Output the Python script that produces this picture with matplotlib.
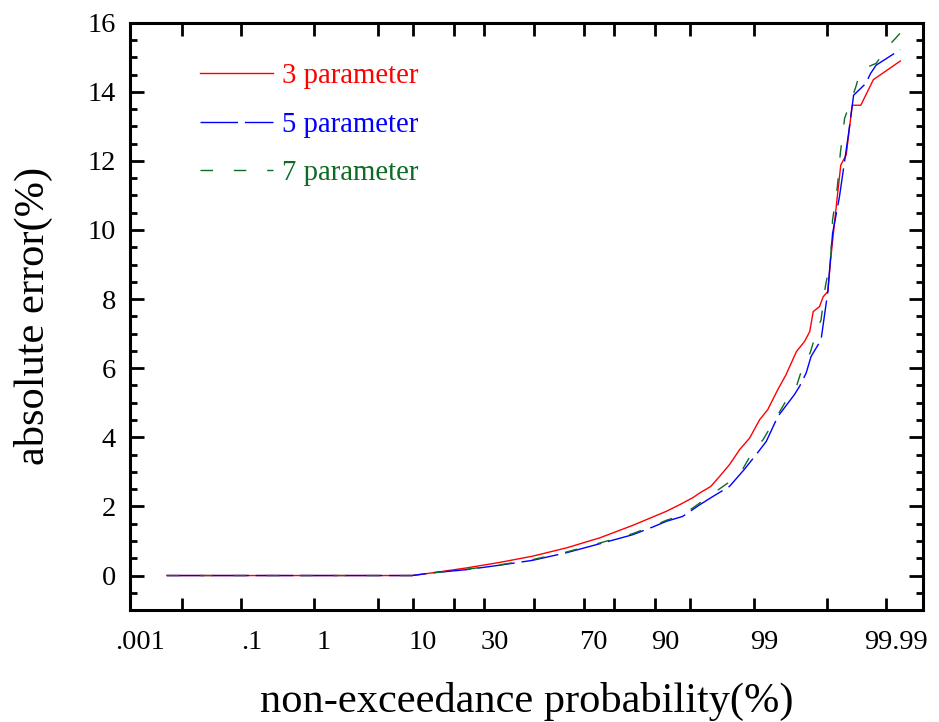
# absolute error of the fitted quantiles vs non-exceedance probability
# x axis is a normal probability scale (percent)

import math
import numpy as np
import matplotlib
matplotlib.use('Agg')
import matplotlib.pyplot as plt
from matplotlib.ticker import FixedLocator, MultipleLocator
from matplotlib.transforms import ScaledTranslation

plt.rcParams['font.family'] = ['Liberation Serif', 'DejaVu Serif']

# probability (%) / absolute error (%) for each fit
p3 = [0.0053, 9.9, 14.3, 23.8, 35.9, 49.4, 63.4, 75.6, 85.1, 91.9, 93.8, 95.3, 96.0,
      96.9, 97.5, 98.05, 98.5, 98.86, 99.14, 99.32, 99.497, 99.61, 99.72, 99.785,
      99.82, 99.84, 99.871, 99.887, 99.904, 99.913, 99.929, 99.940, 99.951, 99.961,
      99.972, 99.983, 99.9945]
err3 = [0, 0, 0.08, 0.22, 0.38, 0.56, 0.80, 1.09, 1.45, 1.86, 2.05, 2.25, 2.39,
        2.58, 2.87, 3.21, 3.64, 3.98, 4.51, 4.80, 5.38, 5.81, 6.48, 6.77,
        7.06, 7.64, 7.78, 8.07, 8.22, 9.13, 10.67, 11.88, 12.17, 13.61,
        13.61, 14.35, 14.89]

p5 = [0.0053, 9.9, 14.3, 23.8, 35.9, 49.4, 63.4, 75.6, 85.1, 89.6, 91.9, 94.17, 96.0,
      96.9, 98.05, 98.69, 99.05, 99.29, 99.497, 99.70, 99.747, 99.797, 99.828, 99.878,
      99.904, 99.919, 99.937, 99.955, 99.963, 99.977, 99.981, 99.9848, 99.9945]
err5 = [0, 0, 0.08, 0.17, 0.30, 0.44, 0.66, 0.92, 1.18, 1.41, 1.57, 1.71, 2.05,
        2.25, 2.58, 3.08, 3.50, 3.88, 4.60, 5.23, 5.47, 5.86, 6.34, 6.82,
        8.22, 9.9, 10.96, 12.77, 13.9, 14.24, 14.53, 14.77, 15.22]

p7 = [0.0053, 9.9, 14.3, 23.8, 35.9, 49.4, 63.4, 75.6, 85.1, 89.6, 91.9, 94.17, 96.0,
      98.5, 98.956, 99.22, 99.497, 99.631, 99.72, 99.773, 99.823, 99.855, 99.878,
      99.895, 99.913, 99.919, 99.932, 99.939, 99.948, 99.966, 99.972, 99.9848,
      99.9912, 99.9945]
err7 = [0, 0, 0.08, 0.18, 0.31, 0.46, 0.68, 0.94, 1.21, 1.44, 1.60, 1.75, 2.10,
        2.92, 3.59, 3.93, 4.65, 5.14, 5.47, 6.05, 6.45, 7.01, 7.40,
        8.36, 9.13, 10.29, 11.25, 12.22, 13.23, 14.14, 14.64, 14.82,
        15.35, 15.70]

tick_labels = ['.001', '.1', '1', '10', '30', '70', '90', '99', '99.99']
tick_probs = [0.001, 0.1, 1, 10, 30, 70, 90, 99, 99.99]
minor_probs = [0.01, 5, 20, 50, 80, 95, 99.9]


# inverse normal cdf (Acklam), percent in -> z out
A = [-3.969683028665376e+01, 2.209460984245205e+02, -2.759285104469687e+02,
     1.383577518672690e+02, -3.066479806614716e+01, 2.506628277459239e+00]
B = [-5.447609879822406e+01, 1.615858368580409e+02, -1.556989798598866e+02,
     6.680131188771972e+01, -1.328068155288572e+01]
C = [-7.784894002430293e-03, -3.223964580411365e-01, -2.400758277161838e+00,
     -2.549732539343734e+00, 4.374664141464968e+00, 2.938163982698783e+00]
D = [7.784695709041462e-03, 3.224671290700398e-01, 2.445134137142996e+00,
     3.754408661907416e+00]


def _tail(t):
    num = ((((C[0]*t + C[1])*t + C[2])*t + C[3])*t + C[4])*t + C[5]
    den = (((D[0]*t + D[1])*t + D[2])*t + D[3])*t + 1
    return num / den


def prob_to_z(p):
    q = np.clip(np.asarray(p, dtype=float) / 100.0, 1e-12, 1 - 1e-12)
    z = np.empty_like(q)
    lo = q < 0.02425
    hi = q > 1 - 0.02425
    mid = ~(lo | hi)
    r = q[mid] - 0.5
    s = r * r
    z[mid] = ((((((A[0]*s + A[1])*s + A[2])*s + A[3])*s + A[4])*s + A[5]) * r /
              (((((B[0]*s + B[1])*s + B[2])*s + B[3])*s + B[4])*s + 1))
    z[lo] = _tail(np.sqrt(-2 * np.log(q[lo])))
    z[hi] = -_tail(np.sqrt(-2 * np.log(1 - q[hi])))
    return z


_erf = np.vectorize(math.erf)


def z_to_prob(z):
    z = np.asarray(z, dtype=float)
    return 50.0 * (1.0 + _erf(z / math.sqrt(2.0)))


fig = plt.figure(figsize=(9.39, 7.22), dpi=100)
ax = fig.add_axes([0.1385, 0.155, 0.8445, 0.8136])
ax.set_xscale('function', functions=(prob_to_z, z_to_prob))

ax.plot(p3, err3, color='#ff0000', lw=1.0, label='3 parameter')
ax.plot(p5, err5, color='#0000ff', lw=1.0, dashes=(27, 5), dash_capstyle='butt',
        label='5 parameter')
ax.plot(p7, err7, color='#0f6b24', lw=1.0, dashes=(9, 15), label='7 parameter')

ax.set_xlim(0.001, 99.998)
ax.set_ylim(-1, 16)

ax.xaxis.set_major_locator(FixedLocator(tick_probs))
ax.xaxis.set_minor_locator(FixedLocator(minor_probs))
ax.set_xticklabels(tick_labels)
ax.xaxis.set_minor_formatter(plt.NullFormatter())
ax.yaxis.set_major_locator(MultipleLocator(2))
ax.yaxis.set_minor_locator(MultipleLocator(0.5))

ax.tick_params(which='both', direction='in', top=True, right=True, width=2.0,
               labelsize=20.5, pad=10)
ax.tick_params(axis='x', which='both', length=9, pad=14)
ax.tick_params(axis='y', which='major', length=10)
ax.tick_params(axis='y', which='minor', length=5)
for sp in ax.spines.values():
    sp.set_linewidth(2.2)

# labels sit a little right of their ticks
shift = ScaledTranslation(10 / 100, 0, fig.dpi_scale_trans)
for lbl in ax.get_xticklabels():
    lbl.set_transform(lbl.get_transform() + shift)

ax.set_xlabel('non-exceedance probability(%)', fontsize=30.5, labelpad=20)
ax.set_ylabel('absolute error(%)', fontsize=30.5, labelpad=25)

leg = ax.legend(loc='upper left', bbox_to_anchor=(0.088, 0.931), frameon=False,
                fontsize=20.7, handlelength=2.54, handletextpad=0.31,
                labelspacing=0.78, borderpad=0, borderaxespad=0,
                labelcolor='linecolor')

fig.savefig('out.png', dpi=100)
